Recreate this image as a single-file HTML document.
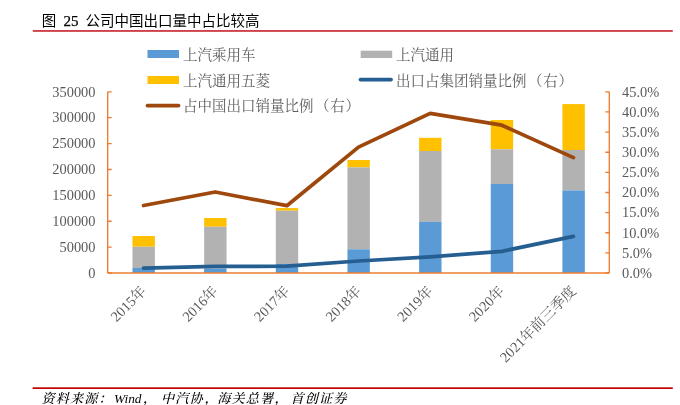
<!DOCTYPE html>
<html lang="zh"><head><meta charset="utf-8"><title>图 25 公司中国出口量中占比较高</title>
<style>
html,body{margin:0;padding:0;background:#fff;}
body{width:680px;height:405px;overflow:hidden;position:relative;}
svg{position:absolute;left:0;top:0;display:block;}
.t{font-family:"Liberation Sans","Noto Sans CJK SC",sans-serif;}
.s{font-family:"Liberation Serif","Noto Serif CJK SC",serif;fill:#595959;font-size:14.4px;}
.l{font-size:14.5px;fill:#606060;}
</style></head><body>
<svg width="680" height="405" viewBox="0 0 680 405">
<rect width="680" height="405" fill="#fff"/>
<text x="41.7" y="26" class="t" font-size="14.5" fill="#000" font-weight="400" xml:space="preserve"><tspan>图</tspan><tspan x="63.6" font-family="Liberation Serif, serif" font-weight="400" font-size="15" stroke="#000" stroke-width="0.25">25</tspan><tspan x="85.6">公司中国出口量中占比较高</tspan></text>
<rect x="32.8" y="30.15" width="640" height="1.6" fill="#c8202a"/>
<rect x="32.6" y="387.3" width="640.2" height="1.7" fill="#c40000"/>
<rect x="132.48" y="236" width="22.4" height="10.75" fill="#ffc000"/><rect x="132.48" y="246.75" width="22.4" height="21.25" fill="#b2b2b2"/><rect x="132.48" y="268" width="22.4" height="5.00" fill="#5b9bd5"/>
<rect x="204.14" y="218" width="22.4" height="8.75" fill="#ffc000"/><rect x="204.14" y="226.75" width="22.4" height="42.00" fill="#b2b2b2"/><rect x="204.14" y="268.75" width="22.4" height="4.25" fill="#5b9bd5"/>
<rect x="275.79" y="208.1" width="22.4" height="2.60" fill="#ffc000"/><rect x="275.79" y="210.7" width="22.4" height="53.30" fill="#b2b2b2"/><rect x="275.79" y="264" width="22.4" height="9.00" fill="#5b9bd5"/>
<rect x="347.45" y="160" width="22.4" height="7.40" fill="#ffc000"/><rect x="347.45" y="167.4" width="22.4" height="81.90" fill="#b2b2b2"/><rect x="347.45" y="249.3" width="22.4" height="23.70" fill="#5b9bd5"/>
<rect x="419.11" y="137.8" width="22.4" height="13.20" fill="#ffc000"/><rect x="419.11" y="151" width="22.4" height="70.80" fill="#b2b2b2"/><rect x="419.11" y="221.8" width="22.4" height="51.20" fill="#5b9bd5"/>
<rect x="490.76" y="120" width="22.4" height="29.30" fill="#ffc000"/><rect x="490.76" y="149.3" width="22.4" height="34.70" fill="#b2b2b2"/><rect x="490.76" y="184" width="22.4" height="89.00" fill="#5b9bd5"/>
<rect x="562.42" y="104.1" width="22.4" height="45.90" fill="#ffc000"/><rect x="562.42" y="150" width="22.4" height="40.40" fill="#b2b2b2"/><rect x="562.42" y="190.4" width="22.4" height="82.60" fill="#5b9bd5"/>
<path d="M107.7 91.8V273.0M107.7 273.0H609.3M609.3 91.8V273.0" stroke="#ed7d31" stroke-width="1.35" fill="none"/>
<path d="M107.7 273.00h4M107.7 247.11h4M107.7 221.23h4M107.7 195.34h4M107.7 169.46h4M107.7 143.57h4M107.7 117.69h4M107.7 91.80h4M609.3 273.00h-4M609.3 252.87h-4M609.3 232.73h-4M609.3 212.60h-4M609.3 192.47h-4M609.3 172.33h-4M609.3 152.20h-4M609.3 132.07h-4M609.3 111.93h-4M609.3 91.80h-4" stroke="#ed7d31" stroke-width="1.35" fill="none"/>
<polyline points="143.53,268.2 215.19,266.4 286.84,266.2 358.50,261.0 430.16,256.9 501.81,251.3 573.47,236.4" fill="none" stroke="#255e91" stroke-width="3.75" stroke-linecap="round" stroke-linejoin="round"/>
<polyline points="143.53,205.5 215.19,192 286.84,205.7 358.50,147.1 430.16,113.4 501.81,125.2 573.47,157.6" fill="none" stroke="#9e480e" stroke-width="3.75" stroke-linecap="round" stroke-linejoin="round"/>
<text class="s" x="95.5" y="277.80" text-anchor="end">0</text><text class="s" x="95.5" y="251.91" text-anchor="end">50000</text><text class="s" x="95.5" y="226.03" text-anchor="end">100000</text><text class="s" x="95.5" y="200.14" text-anchor="end">150000</text><text class="s" x="95.5" y="174.26" text-anchor="end">200000</text><text class="s" x="95.5" y="148.37" text-anchor="end">250000</text><text class="s" x="95.5" y="122.49" text-anchor="end">300000</text><text class="s" x="95.5" y="96.60" text-anchor="end">350000</text>
<text class="s" x="622" y="277.80">0.0%</text><text class="s" x="622" y="257.67">5.0%</text><text class="s" x="622" y="237.53">10.0%</text><text class="s" x="622" y="217.40">15.0%</text><text class="s" x="622" y="197.27">20.0%</text><text class="s" x="622" y="177.13">25.0%</text><text class="s" x="622" y="157.00">30.0%</text><text class="s" x="622" y="136.87">35.0%</text><text class="s" x="622" y="116.73">40.0%</text><text class="s" x="622" y="96.60">45.0%</text>
<text class="s" text-anchor="end" transform="translate(147.03,292.00) rotate(-45)">2015年</text><text class="s" text-anchor="end" transform="translate(218.69,292.00) rotate(-45)">2016年</text><text class="s" text-anchor="end" transform="translate(290.34,292.00) rotate(-45)">2017年</text><text class="s" text-anchor="end" transform="translate(362.00,292.00) rotate(-45)">2018年</text><text class="s" text-anchor="end" transform="translate(433.66,292.00) rotate(-45)">2019年</text><text class="s" text-anchor="end" transform="translate(505.31,292.00) rotate(-45)">2020年</text><text class="s" text-anchor="end" transform="translate(576.97,292.00) rotate(-45)">2021年前三季度</text>
<rect x="147.5" y="50" width="31.5" height="8" fill="#5b9bd5"/><text class="s l" x="183" y="59.5">上汽乘用车</text>
<rect x="360.7" y="50.7" width="31.5" height="7.3" fill="#b2b2b2"/><text class="s l" x="396" y="59.5">上汽通用</text>
<rect x="147.5" y="76" width="31.5" height="8" fill="#ffc000"/><text class="s l" x="183" y="85.5">上汽通用五菱</text>
<path d="M360.5 79.5H391" stroke="#255e91" stroke-width="3.75" stroke-linecap="round"/><text class="s l" x="396" y="85.5">出口占集团销量比例<tspan dx="1.6">（</tspan><tspan dx="0.6">右</tspan><tspan dx="0.9">）</tspan></text>
<path d="M147.5 105.5H178.5" stroke="#9e480e" stroke-width="3.75" stroke-linecap="round"/><text class="s l" x="183" y="111">占中国出口销量比例<tspan dx="1.6">（</tspan><tspan dx="0.6">右</tspan><tspan dx="0.9">）</tspan></text>
<text y="402.8" font-family="'Liberation Serif','Noto Serif CJK SC',serif" font-style="italic" font-weight="500" font-size="13.2" letter-spacing="1.05" fill="#000"><tspan x="41.5">资料来源：</tspan><tspan x="114" letter-spacing="0" font-weight="400" font-size="13.4">Wind</tspan><tspan x="143">，</tspan><tspan x="161">中汽协</tspan><tspan x="204.5">，</tspan><tspan x="217.2">海关总署</tspan><tspan x="274.5">，</tspan><tspan x="290.5">首创证券</tspan></text>
</svg></body></html>
